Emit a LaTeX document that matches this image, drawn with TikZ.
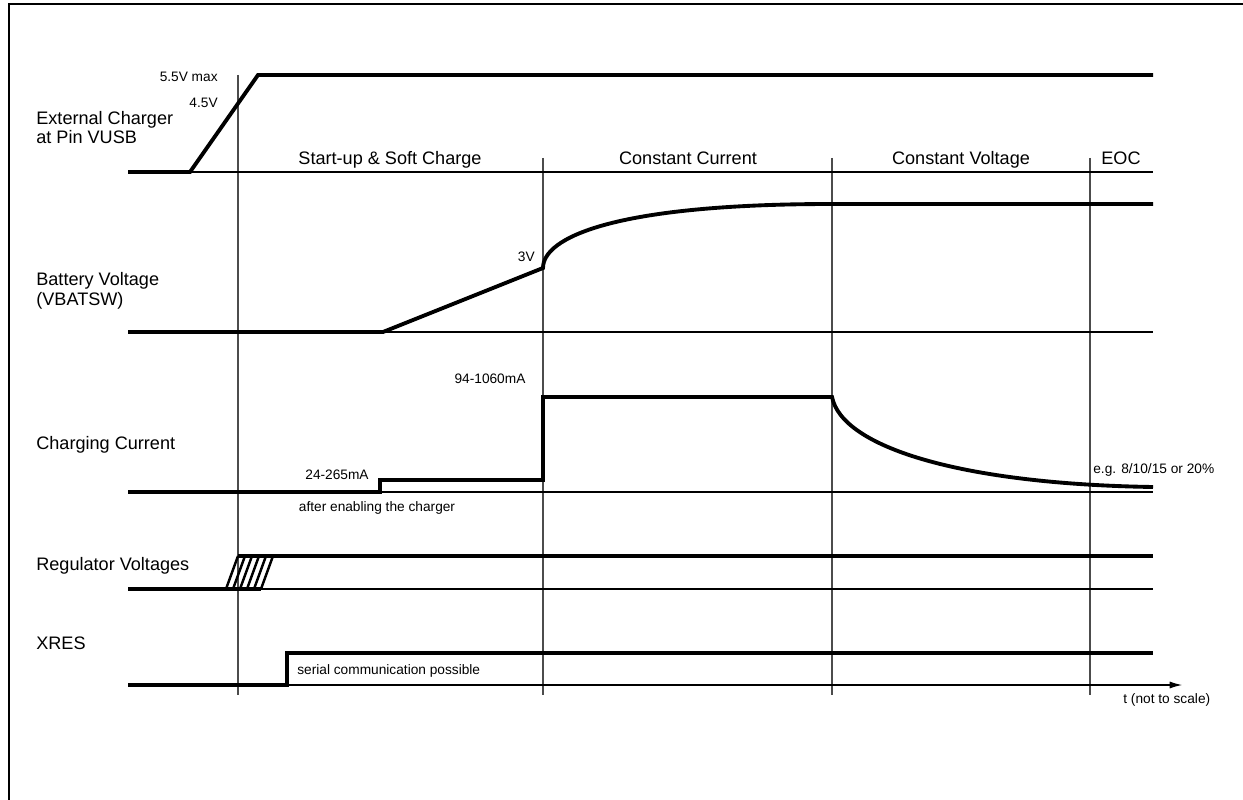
\documentclass[tikz,border=0pt]{standalone}
\usepackage{fontspec}
\setmainfont{Liberation Sans}
\usetikzlibrary{arrows.meta}

\tikzset{
  sig/.style={line width=2.2pt, line join=miter},
  base/.style={line width=0.6pt},
  phase/.style={line width=0.75pt, black!70},
  signame/.style={anchor=west, align=left, inner sep=0pt, font=\fontsize{10.3}{11.3}\selectfont},
  phasename/.style={anchor=base, inner sep=0pt, font=\fontsize{10.3}{12}\selectfont},
  small/.style={inner sep=0pt, font=\fontsize{7.8}{9}\selectfont},
}

\begin{document}
\begin{tikzpicture}[x=0.02cm,y=-0.02cm]
        \useasboundingbox (0,0) rectangle (1243,800);
        \draw[line width=1.7pt] (9,800) -- (9,4) -- (1243,4);
        % phase borders
        \draw[phase] (238,75) -- (238,695);
        \draw[phase] (543,158) -- (543,695);
        \draw[phase] (832,158) -- (832,695);
        \draw[phase] (1090,158) -- (1090,695);
        % base lines
        \draw[base] (128,172) -- (1153,172);
        \draw[base] (128,332) -- (1153,332);
        \draw[base] (128,492) -- (1153,492);
        \draw[base] (128,589) -- (1153,589);
        \draw[base,-{Latex[length=7pt,width=4pt]}] (128,685) -- (1182,685);
        % signals
        \draw[sig] (128,172) -- (190,172) -- (258,75) -- (1153,75);
        \draw[sig] (128,332) -- (383,332) -- (543,268) .. controls (543,238) and (612,204) .. (832,204) -- (1153,204);
        \draw[sig] (128,492) -- (380,492) -- (380,480) -- (543,480) -- (543,397) -- (832,397) .. controls (842,447) and (960,484) .. (1153,487);
        \draw[sig] (128,589) -- (261,589);
        \draw[sig] (238,556) -- (1153,556);
        \foreach \k in {0,...,5}
            \draw[line width=1.4pt] (226+\k*7,589) -- (238+\k*7,556);
        \draw[sig] (128,685) -- (287,685) -- (287,653) -- (1153,653);
        % texts
        \node[signame] (ncharger) at (36,127.5) {External Charger\\at Pin VUSB};
        \node[signame] (nbattery) at (36,290.5) {Battery Voltage\\(VBATSW)};
        \node[signame, anchor=base west] (ncurrent) at (36,449) {Charging Current};
        \node[signame, anchor=base west] (nregulator) at (36,570) {Regulator Voltages};
        \node[signame, anchor=base west] (nxres) at (36,649) {XRES};
        \node[phasename] (psoft) at (390,165) {Start-up \& Soft Charge};
        \node[phasename] (pcc) at (688,165) {Constant Current};
        \node[phasename] (pcv) at (961,165) {Constant Voltage};
        \node[phasename] (peoc) at (1121,165) {EOC};
        \node[small, anchor=east] (lmax) at (218,77) {5.5V max};
        \node[small, anchor=east] (lmin) at (218,103) {4.5V};
        \node[small, anchor=east] (lthree) at (535,257) {3V};
        \node[small] (lhigh) at (490,379) {94-1060mA};
        \node[small] (llow) at (337,475) {24-265mA};
        \node[small] (lenable) at (377,508) {after enabling the charger};
        \node[small, anchor=west] (leoc) at (1093,470) {e.g. 8/10/15 or 20\%};
        \node[small, anchor=west] (lserial) at (297,671) {serial communication possible};
        \node[small, anchor=west] (ltime) at (1123,700) {t (not to scale)};
    \end{tikzpicture}
\end{document}
